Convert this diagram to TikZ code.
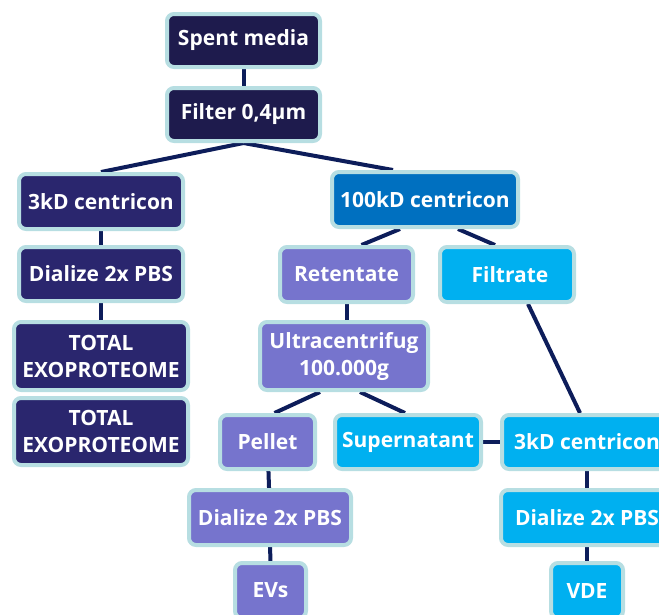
\documentclass[tikz,border=0pt]{standalone}
\usepackage{fontspec}
\setmainfont{Open Sans}
\pgfdeclarelayer{background}
\pgfsetlayers{background,main}

\definecolor{rim}{HTML}{B7DEE2}
\definecolor{inkdark}{HTML}{1E1B4D}
\definecolor{inkleft}{HTML}{2A266E}
\definecolor{ocean}{HTML}{0070C0}
\definecolor{lilac}{HTML}{7674CD}
\definecolor{sky}{HTML}{00B0F0}
\definecolor{linkblue}{HTML}{0D1D5A}

\begin{document}
\begin{tikzpicture}[x=1pt,y=-1pt]

    \tikzset{
      stepbox/.style={
        draw=rim,
        line width=4pt,
        rounded corners=7pt,
        text=white,
        inner sep=0pt,
        align=center,
        font=\fontsize{21}{27}\selectfont\bfseries,
      },
      link/.style={draw=linkblue, line width=4pt},
    }
    \useasboundingbox (0,0) rectangle (659,614);
    \clip (0,0) rectangle (659,614);

	% top
	\node[stepbox, fill=inkdark, minimum width=153pt, minimum height=53pt] (spent) at (243.5,40.5) {Spent media};
	\node[stepbox, fill=inkdark, minimum width=153pt, minimum height=53pt] (filter) at (243.5,114.5) {Filter 0,4µm};

	% left column
	\node[stepbox, fill=inkleft, minimum width=164pt, minimum height=55pt] (lkd) at (101,201.5) {3kD centricon};
	\node[stepbox, fill=inkleft, minimum width=164pt, minimum height=54pt] (ldial) at (101,274) {Dialize 2x PBS};
	\node[stepbox, fill=inkleft, minimum width=174pt, minimum height=68pt] (tot1) at (101,356) {TOTAL\\EXOPROTEOME};
	\node[stepbox, fill=inkleft, minimum width=174pt, minimum height=67pt] (tot2) at (101,431.5) {TOTAL\\EXOPROTEOME};

	% 100kD branch
	\node[stepbox, fill=ocean, minimum width=186pt, minimum height=55pt] (hkd) at (425,199.5) {100kD centricon};
	\node[stepbox, fill=lilac, minimum width=133pt, minimum height=55pt] (ret) at (346.5,274.5) {Retentate};
	\node[stepbox, fill=sky, minimum width=134pt, minimum height=55pt] (filt) at (507,274.5) {\hspace{6pt}Filtrate};
	\node[stepbox, fill=lilac, minimum width=168pt, minimum height=68pt] (ultra) at (344,356) {Ultracentrifug\\100.000g};
	\node[stepbox, fill=lilac, minimum width=95pt, minimum height=54pt] (pellet) at (267.5,442) {Pellet};
	\node[stepbox, fill=sky, minimum width=146pt, minimum height=54pt] (super) at (408,442) {Supernatant};
	\node[stepbox, fill=sky, minimum width=170pt, minimum height=54pt] (rkd) at (587,442) {3kD centricon};
	\node[stepbox, fill=lilac, minimum width=162pt, minimum height=55pt] (mdial) at (270,517.5) {Dialize 2x PBS};
	\node[stepbox, fill=sky, minimum width=172pt, minimum height=55pt] (rdial) at (587,517.5) {Dialize 2x PBS};
	\node[stepbox, fill=lilac, minimum width=71pt, minimum height=55pt] (evs) at (270.5,590.5) {EVs};
	\node[stepbox, fill=sky, minimum width=72pt, minimum height=55pt] (vde) at (587,590.5) {VDE};

	\begin{pgfonlayer}{background}
	\draw[link] (spent) -- (filter);
	\draw[link] (filter.south) -- (lkd.north);
	\draw[link] (filter.south) -- ([xshift=-32pt]hkd.north);
	\draw[link] (lkd) -- (ldial);
	\draw[link] (ldial) -- (tot1);
	\draw[link] ([xshift=-25pt]hkd.south) -- ([xshift=15pt]ret.north);
	\draw[link] ([xshift=33pt]hkd.south) -- ([xshift=-12pt]filt.north);
	\draw[link] (ret.south) -- (ret.south |- ultra.north);
	\draw[link] ([xshift=21pt]filt.south) -- ([xshift=-7pt]rkd.north);
	\draw[link] ([xshift=-24pt]ultra.south) -- ([xshift=7pt]pellet.north);
	\draw[link] ([xshift=16pt]ultra.south) -- ([xshift=-3pt]super.north);
	\draw[link] (super) -- (rkd);
	\draw[link] (pellet) -- (mdial);
	\draw[link] (mdial) -- (evs);
	\draw[link] (rkd) -- (rdial);
	\draw[link] (rdial) -- (vde);
	\end{pgfonlayer}

\end{tikzpicture}
\end{document}
